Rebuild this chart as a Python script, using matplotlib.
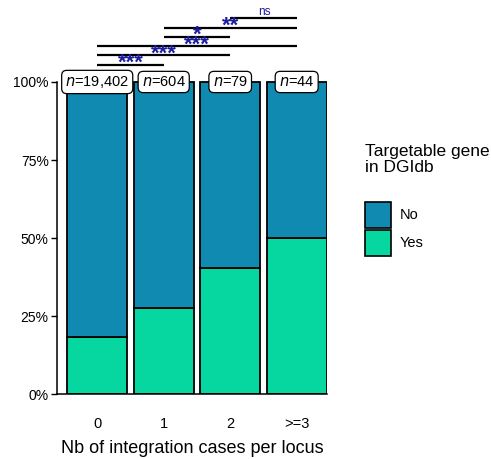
import matplotlib.pyplot as plt
from matplotlib.patches import Rectangle

plt.rcParams["font.family"] = ["Liberation Sans", "DejaVu Sans"]

# Proportion de genes ciblables par nombre de cas d'integration
categories = ["0", "1", "2", ">=3"]
n_loci = [19402, 604, 79, 44]
yes_frac = [0.184, 0.275, 0.405, 0.50]
no_frac = [1 - v for v in yes_frac]

# Comparaisons deux a deux (indices des groupes, niveau de significativite)
comparisons = [(0, 1, "***"), (0, 2, "***"), (0, 3, "***"),
               (1, 2, "*"), (1, 3, "**"), (2, 3, "ns")]

COL_NO = "#118AB2"
COL_YES = "#06D6A0"
STAR = "#1c1ca0"

W, H = 491, 459
fig = plt.figure(figsize=(W / 100, H / 100), dpi=100)
ax = fig.add_axes([57 / W, 64.7 / H, 270 / W, 390.4 / H])

x = list(range(1, len(categories) + 1))
ax.bar(x, yes_frac, width=0.9, color=COL_YES, edgecolor="black", linewidth=1.3)
ax.bar(x, no_frac, bottom=yes_frac, width=0.9, color=COL_NO,
       edgecolor="black", linewidth=1.3)

# Effectifs au sommet de chaque barre
for xi, n in zip(x, n_loci):
    ax.text(xi, 1.0, f"$n$={n:,}", ha="center", va="center", fontsize=10.5,
            bbox=dict(boxstyle="round,pad=0.25,rounding_size=0.35",
                      fc="white", ec="black", lw=0.9), zorder=5)

# Barres de significativite
y0, step = 1.055, 0.0298
for k, (a, b, lab) in enumerate(comparisons):
    y = y0 + k * step
    ax.plot([x[a], x[b]], [y, y], color="black", lw=1.6,
            solid_capstyle="butt", clip_on=False)
    xm = (x[a] + x[b]) / 2
    if lab == "ns":
        ax.text(xm + 0.02, y + 0.002, lab, ha="center", va="bottom",
                fontsize=8.5, color=STAR)
    else:
        ax.text(xm, y - 0.013, lab, ha="center", va="baseline",
                fontsize=16, color=STAR, fontweight="bold")

ax.set_xlim(0.395, 4.456)
ax.set_ylim(0, 1.25)
ax.set_yticks([0, 0.25, 0.5, 0.75, 1.0])
ax.set_yticklabels(["0%", "25%", "50%", "75%", "100%"])
ax.set_xticks(x)
ax.set_xticklabels(categories)
ax.tick_params(axis="y", length=4, width=1, pad=2, labelsize=10)
ax.tick_params(axis="x", length=0, pad=16, labelsize=10.5)
ax.set_xlabel("Nb of integration cases per locus", fontsize=13, labelpad=7)

for s in ["top", "right"]:
    ax.spines[s].set_visible(False)
ax.spines["left"].set_bounds(0, 1)
ax.spines["left"].set_linewidth(1.1)
ax.spines["bottom"].set_linewidth(1.1)

# Legende
fig.text(365 / W, 1 - 172 / H, "Targetable gene\nin DGIdb", ha="left",
         va="baseline", fontsize=12.5, linespacing=1.05)
for i, (lab, col) in enumerate([("No", COL_NO), ("Yes", COL_YES)]):
    top = 201.7 + i * 28.3
    fig.add_artist(Rectangle((364.5 / W, 1 - (top + 26) / H), 26 / W, 26 / H,
                             transform=fig.transFigure, fc=col, ec="black",
                             lw=1.2))
    fig.text(400 / W, 1 - (top + 13.5) / H, lab, ha="left", va="center",
             fontsize=10.5)

fig.savefig("out.png", dpi=100)
